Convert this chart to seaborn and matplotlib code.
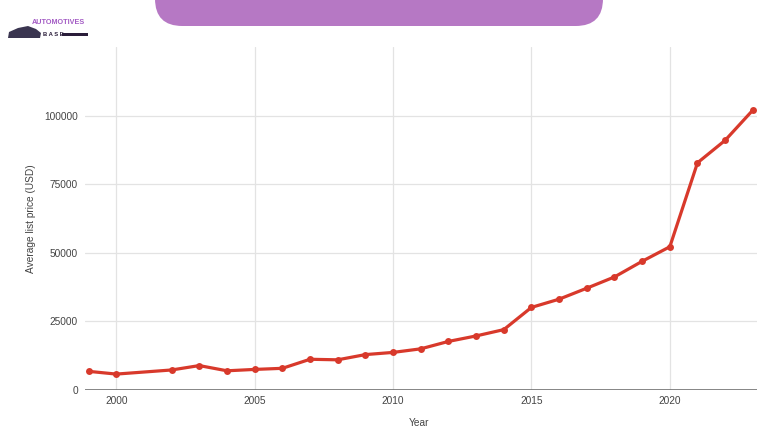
import matplotlib
matplotlib.use("Agg")
import matplotlib.pyplot as plt
from matplotlib.patches import FancyBboxPatch, Rectangle, Polygon
import seaborn as sns
import pandas as pd

years = [1999, 2000, 2002, 2003, 2004, 2005, 2006, 2007, 2008, 2009, 2010, 2011,
         2012, 2013, 2014, 2015, 2016, 2017, 2018, 2019, 2020, 2021, 2022, 2023]
prices = [6800, 5800, 7300, 8900, 7000, 7500, 7900, 11200, 11000, 12900, 13700, 15000,
          17700, 19700, 22000, 30100, 33100, 37100, 41200, 46900, 52200, 82800, 91000, 102000]
y_ticks = [0, 25000, 50000, 75000, 100000]
x_ticks = [2000, 2005, 2010, 2015, 2020]

df = pd.DataFrame({"Year": years, "Price": prices})

sns.set_theme(style="white")
plt.rcParams["font.family"] = ["Liberation Sans", "DejaVu Sans"]

W, H = 780, 440
fig = plt.figure(figsize=(W / 100, H / 100), dpi=100)
ax = fig.add_axes([85 / W, 50 / H, 672 / W, 343 / H])

RED = "#d8392b"
sns.lineplot(data=df, x="Year", y="Price", ax=ax, color=RED, linewidth=2.3,
             marker="o", markersize=5, markeredgewidth=0, zorder=3)

ax.set_xlim(1998.87, 2023.15)
ax.set_ylim(0, 125000)
ax.set_xticks(x_ticks)
ax.set_yticks(y_ticks)
ax.set_xticklabels([str(t) for t in x_ticks])
ax.set_yticklabels([str(t) for t in y_ticks])
ax.grid(True, color="#e3e3e3", linewidth=0.9)
ax.set_axisbelow(True)
for s in ax.spines.values():
    s.set_visible(False)
ax.axhline(0, color="#666666", linewidth=1.1, zorder=2)
ax.tick_params(axis="both", length=0, labelsize=7.3, colors="#444444")
ax.tick_params(axis="x", pad=4)
ax.tick_params(axis="y", pad=5)

ax.set_xlabel("Year", fontsize=7.3, color="#444444")
ax.set_ylabel("Average list price (USD)", fontsize=7.3, color="#444444")
ax.xaxis.set_label_coords(0.497, -0.082)
ax.yaxis.set_label_coords(-0.073, 0.5)

# purple banner
banner = FancyBboxPatch((155 / W, 1 - 26 / H), 448 / W, 60 / H,
                        boxstyle="round,pad=0,rounding_size=0.035",
                        transform=fig.transFigure, facecolor="#b678c4",
                        edgecolor="none", mutation_aspect=W / H)
fig.patches.append(banner)

# logo
fig.text(32 / W, 1 - 23 / H, "AUTOMOTIVES", fontsize=5.2, color="#a35bc4",
         fontweight="bold", va="center", ha="left",
         family=["Liberation Sans Narrow", "Liberation Sans", "DejaVu Sans"])
fig.patches.append(Rectangle((62 / W, 1 - 36 / H), 26 / W, 3 / H,
                             transform=fig.transFigure, facecolor="#2a1d3a",
                             edgecolor="none"))
fig.text(43 / W, 1 - 34 / H, "B A S E", fontsize=4.2, color="#2a1d3a",
         fontweight="bold", va="center", ha="left")
car = Polygon([(8 / W, 1 - 38 / H), (9 / W, 1 - 32 / H), (18 / W, 1 - 28 / H),
               (28 / W, 1 - 26 / H), (36 / W, 1 - 29 / H), (41 / W, 1 - 33 / H),
               (40 / W, 1 - 38 / H)],
              closed=True, transform=fig.transFigure, facecolor="#3a3550",
              edgecolor="none")
fig.patches.append(car)

fig.savefig("out.png", dpi=100)
